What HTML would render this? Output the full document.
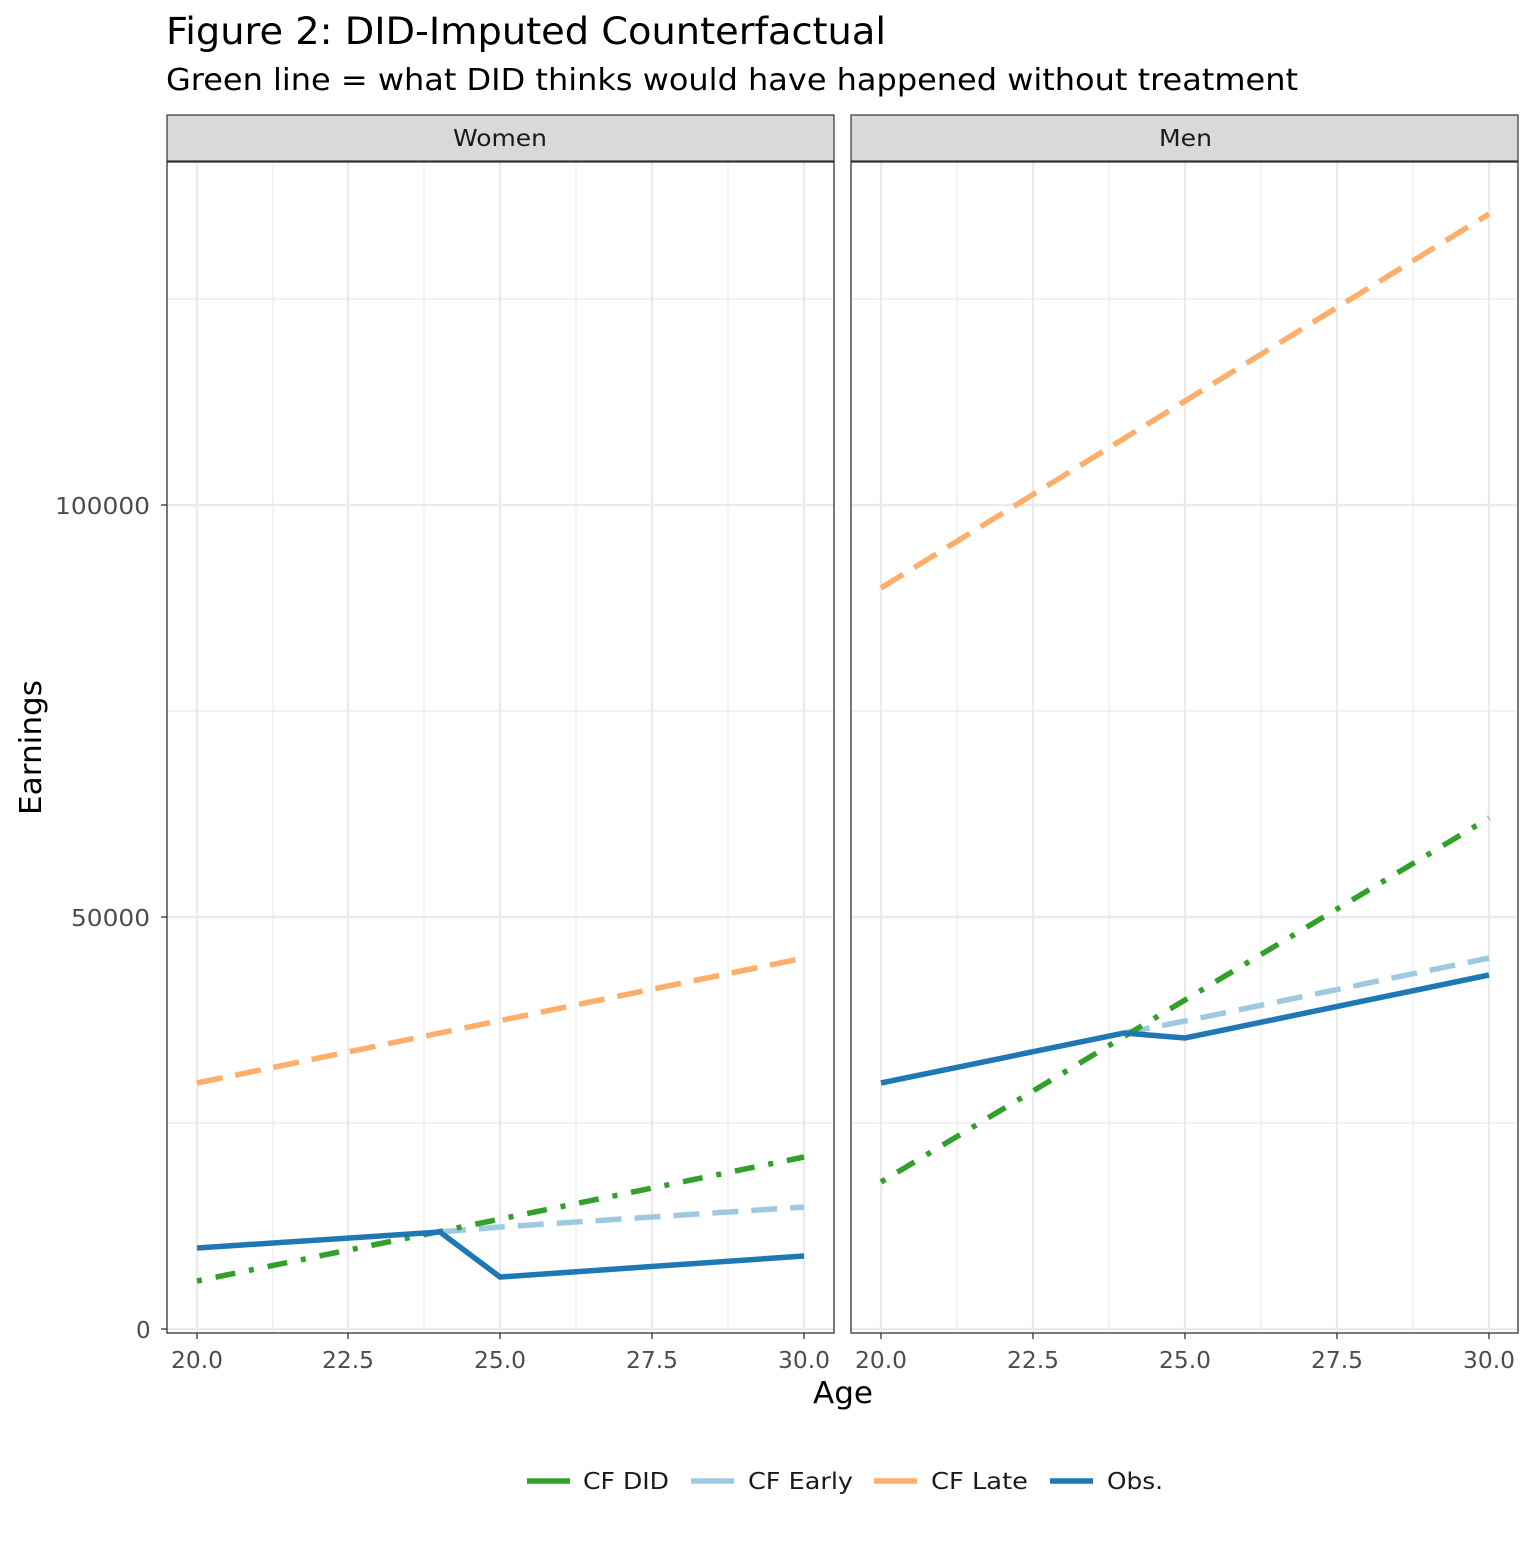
<!DOCTYPE html>
<html><head><style>body{margin:0;background:#fff}</style></head><body>
<svg width="1536" height="1536" xmlns="http://www.w3.org/2000/svg" font-family="DejaVu Sans, Liberation Sans, sans-serif">
<rect width="1536" height="1536" fill="#fff"/>
<text x="166" y="44" font-size="37" fill="#000" textLength="720" lengthAdjust="spacingAndGlyphs">Figure 2: DID-Imputed Counterfactual</text>
<text x="166" y="90" font-size="30" fill="#000" textLength="1132" lengthAdjust="spacingAndGlyphs">Green line = what DID thinks would have happened without treatment</text>
<rect x="167" y="115" width="667" height="46" fill="#d9d9d9" stroke="#333" stroke-width="1.2"/>
<rect x="851" y="115" width="667" height="46" fill="#d9d9d9" stroke="#333" stroke-width="1.2"/>
<text x="453" y="146" font-size="23" fill="#1a1a1a" textLength="94" lengthAdjust="spacingAndGlyphs">Women</text>
<text x="1159" y="146" font-size="23" fill="#1a1a1a" textLength="53" lengthAdjust="spacingAndGlyphs">Men</text>
<g stroke="#ebebeb" stroke-width="1.2">
<line x1="167" x2="834" y1="1123" y2="1123"/><line x1="167" x2="834" y1="711" y2="711"/><line x1="167" x2="834" y1="299" y2="299"/>
<line x1="273" x2="273" y1="162" y2="1333"/><line x1="424" x2="424" y1="162" y2="1333"/><line x1="576" x2="576" y1="162" y2="1333"/><line x1="728" x2="728" y1="162" y2="1333"/>
<line x1="851" x2="1518" y1="1123" y2="1123"/><line x1="851" x2="1518" y1="711" y2="711"/><line x1="851" x2="1518" y1="299" y2="299"/>
<line x1="957" x2="957" y1="162" y2="1333"/><line x1="1109" x2="1109" y1="162" y2="1333"/><line x1="1261" x2="1261" y1="162" y2="1333"/><line x1="1413" x2="1413" y1="162" y2="1333"/>
</g>
<g stroke="#ebebeb" stroke-width="2.4">
<line x1="167" x2="834" y1="1329" y2="1329"/><line x1="167" x2="834" y1="917" y2="917"/><line x1="167" x2="834" y1="505" y2="505"/>
<line x1="197" x2="197" y1="162" y2="1333"/><line x1="348" x2="348" y1="162" y2="1333"/><line x1="500" x2="500" y1="162" y2="1333"/><line x1="652" x2="652" y1="162" y2="1333"/><line x1="804" x2="804" y1="162" y2="1333"/>
<line x1="851" x2="1518" y1="1329" y2="1329"/><line x1="851" x2="1518" y1="917" y2="917"/><line x1="851" x2="1518" y1="505" y2="505"/>
<line x1="881" x2="881" y1="162" y2="1333"/><line x1="1033" x2="1033" y1="162" y2="1333"/><line x1="1185" x2="1185" y1="162" y2="1333"/><line x1="1337" x2="1337" y1="162" y2="1333"/><line x1="1489" x2="1489" y1="162" y2="1333"/>
</g>
<g fill="none" stroke-width="5.5">
<polyline points="197,1083 804,958" stroke="#fdae6b" stroke-dasharray="26,13"/>
<polyline points="440,1232 500,1227 804,1207" stroke="#9ecae1" stroke-dasharray="26,13"/>
<polyline points="197,1281 804,1157" stroke="#33a02c" stroke-dasharray="5,14,20,14"/>
<polyline points="197,1248 440,1232 500,1277 804,1256" stroke="#1f78b4"/>
<polyline points="881,588 1489,214" stroke="#fdae6b" stroke-dasharray="26,13"/>
<polyline points="1124,1033 1185,1021 1489,958" stroke="#9ecae1" stroke-dasharray="26,13"/>
<polyline points="881,1182 1489,818" stroke="#33a02c" stroke-dasharray="5,14,20,14"/>
<polyline points="881,1083 1124,1033 1185,1038 1489,975" stroke="#1f78b4"/>
</g>
<rect x="167" y="162" width="667" height="1171" fill="none" stroke="#333" stroke-width="1.3"/>
<rect x="851" y="162" width="667" height="1171" fill="none" stroke="#333" stroke-width="1.3"/>
<g stroke="#333" stroke-width="1.3">
<line x1="161" x2="167" y1="1329" y2="1329"/><line x1="161" x2="167" y1="917" y2="917"/><line x1="161" x2="167" y1="505" y2="505"/>
<line x1="197" x2="197" y1="1333" y2="1339"/><line x1="348" x2="348" y1="1333" y2="1339"/><line x1="500" x2="500" y1="1333" y2="1339"/><line x1="652" x2="652" y1="1333" y2="1339"/><line x1="804" x2="804" y1="1333" y2="1339"/>
<line x1="881" x2="881" y1="1333" y2="1339"/><line x1="1033" x2="1033" y1="1333" y2="1339"/><line x1="1185" x2="1185" y1="1333" y2="1339"/><line x1="1337" x2="1337" y1="1333" y2="1339"/><line x1="1489" x2="1489" y1="1333" y2="1339"/>
</g>
<g font-size="23" fill="#4d4d4d">
<text x="136" y="1338">0</text>
<text x="71" y="926" textLength="79" lengthAdjust="spacingAndGlyphs">50000</text>
<text x="55" y="514" textLength="95" lengthAdjust="spacingAndGlyphs">100000</text>
</g>
<g font-size="23" fill="#4d4d4d">
<text x="171" y="1368" textLength="52" lengthAdjust="spacingAndGlyphs">20.0</text><text x="322" y="1368" textLength="52" lengthAdjust="spacingAndGlyphs">22.5</text><text x="474" y="1368" textLength="52" lengthAdjust="spacingAndGlyphs">25.0</text><text x="626" y="1368" textLength="52" lengthAdjust="spacingAndGlyphs">27.5</text><text x="778" y="1368" textLength="52" lengthAdjust="spacingAndGlyphs">30.0</text>
<text x="855" y="1368" textLength="52" lengthAdjust="spacingAndGlyphs">20.0</text><text x="1007" y="1368" textLength="52" lengthAdjust="spacingAndGlyphs">22.5</text><text x="1159" y="1368" textLength="52" lengthAdjust="spacingAndGlyphs">25.0</text><text x="1311" y="1368" textLength="52" lengthAdjust="spacingAndGlyphs">27.5</text><text x="1463" y="1368" textLength="52" lengthAdjust="spacingAndGlyphs">30.0</text>
</g>
<text x="813" y="1403" font-size="30" textLength="60" lengthAdjust="spacingAndGlyphs">Age</text>
<text transform="translate(41,815) rotate(-90)" font-size="30" textLength="135" lengthAdjust="spacingAndGlyphs">Earnings</text>
<g stroke-width="5.5">
<line x1="527" x2="570" y1="1481" y2="1481" stroke="#33a02c"/>
<line x1="691" x2="734" y1="1481" y2="1481" stroke="#9ecae1"/>
<line x1="874" x2="917" y1="1481" y2="1481" stroke="#fdae6b"/>
<line x1="1050" x2="1093" y1="1481" y2="1481" stroke="#1f78b4"/>
</g>
<g font-size="23" fill="#1a1a1a">
<text x="583" y="1489" textLength="86" lengthAdjust="spacingAndGlyphs">CF DID</text>
<text x="748" y="1489" textLength="105" lengthAdjust="spacingAndGlyphs">CF Early</text>
<text x="931" y="1489" textLength="97" lengthAdjust="spacingAndGlyphs">CF Late</text>
<text x="1107" y="1489" textLength="56" lengthAdjust="spacingAndGlyphs">Obs.</text>
</g>
</svg>
</body></html>
